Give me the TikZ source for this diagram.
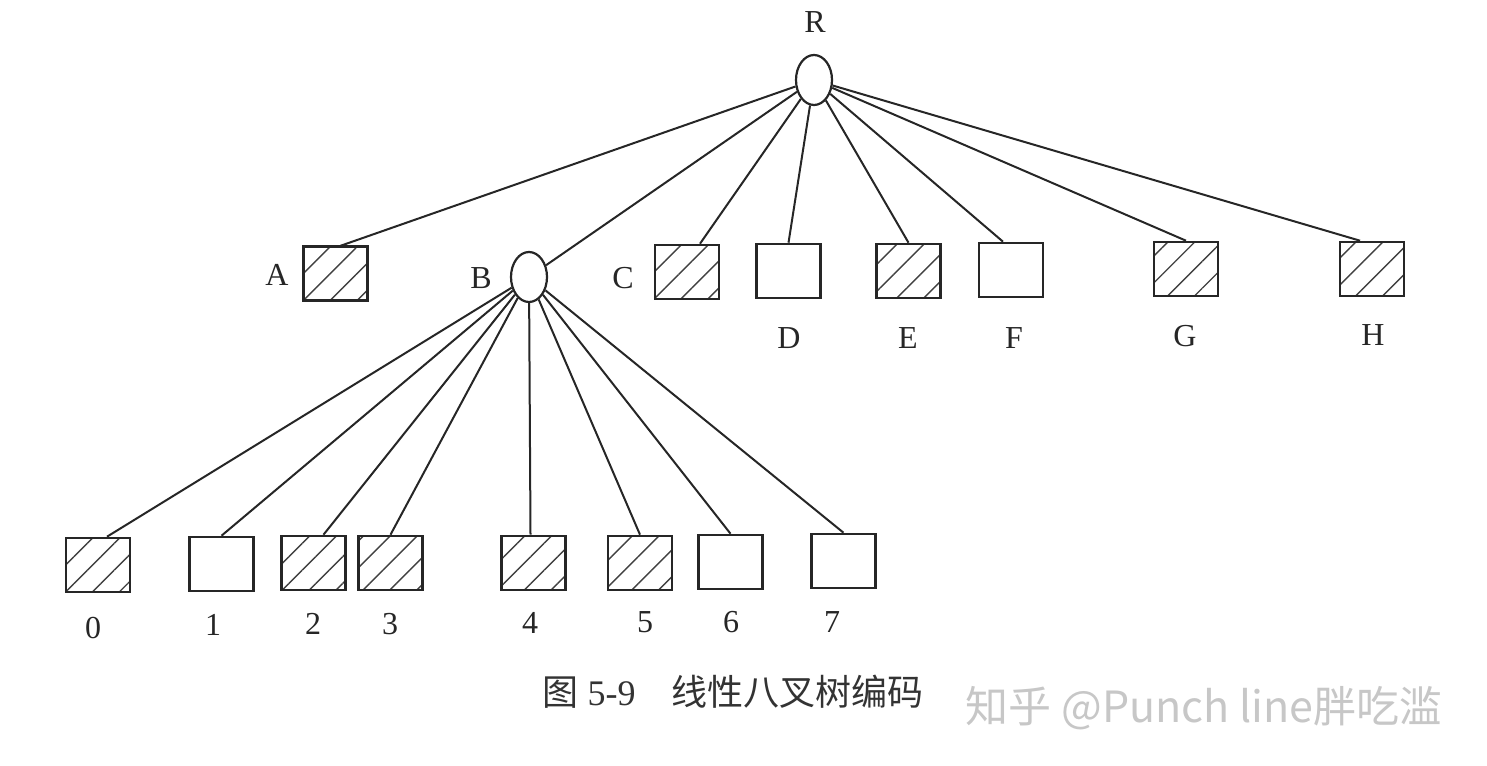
\documentclass[tikz,border=0pt]{standalone}
\usepackage{fontspec}
\setmainfont{Liberation Serif}
\newfontfamily\cjk{Noto Sans CJK SC}
\usetikzlibrary{patterns.meta,shapes.geometric}
\tikzset{
  leaf/.style={draw=black!85,line width=1.3pt,minimum width=32pt,minimum height=27pt,inner sep=0pt},
  hleaf/.style={leaf,pattern={Lines[angle=45,distance=9.5pt,line width=0.7pt]},pattern color=black!75},
  inner/.style={draw=black!85,line width=1.1pt,ellipse,minimum width=18pt,minimum height=25pt,inner sep=0pt},
  lab/.style={font=\fontsize{16}{18}\selectfont,text=black!85,inner sep=0pt},
  conn/.style={draw=black!85,line width=1pt}
}
\begin{document}
\begin{tikzpicture}[x=0.5pt,y=-0.5pt]
\useasboundingbox (0,0) rectangle (1487,765);
% internal nodes
\node[inner] (R) at (814,80) {};
\node[inner] (B) at (529,277) {};
% level 1 leaves
\node[hleaf] (A) at (335.5,273.5) {};
\node[hleaf] (C) at (687,272) {};
\node[leaf]  (D) at (788.5,271) {};
\node[hleaf] (E) at (908.5,271) {};
\node[leaf]  (F) at (1011,270) {};
\node[hleaf] (G) at (1186,269) {};
\node[hleaf] (H) at (1372,269) {};
% level 2 leaves
\node[hleaf] (n0) at (98,565) {};
\node[leaf]  (n1) at (221.5,564) {};
\node[hleaf] (n2) at (313.5,563) {};
\node[hleaf] (n3) at (390.5,563) {};
\node[hleaf] (n4) at (533.5,563) {};
\node[hleaf] (n5) at (640,563) {};
\node[leaf]  (n6) at (730.5,562) {};
\node[leaf]  (n7) at (843.5,561) {};
% labels
\node[lab] (lR) at (815,22) {R};
\node[lab] (lA) at (277,275) {A};
\node[lab] (lB) at (481,278) {B};
\node[lab] (lC) at (623,278) {C};
\node[lab] (lD) at (789,338) {D};
\node[lab] (lE) at (908,338) {E};
\node[lab] (lF) at (1014,338) {F};
\node[lab] (lG) at (1185,336) {G};
\node[lab] (lH) at (1373,335) {H};
\node[lab] (l0) at (93,628) {0};
\node[lab] (l1) at (213,625) {1};
\node[lab] (l2) at (313,624) {2};
\node[lab] (l3) at (390,624) {3};
\node[lab] (l4) at (530,623) {4};
\node[lab] (l5) at (645,622) {5};
\node[lab] (l6) at (731,622) {6};
\node[lab] (l7) at (832,622) {7};
% connectors from R
\draw[conn] (R) -- ([xshift=2.5pt]A.north);
\draw[conn] (R) -- (B);
\draw[conn] (R) -- ([xshift=6.5pt]C.north);
\draw[conn] (R) -- (D.north);
\draw[conn] (R) -- (E.north);
\draw[conn] (R) -- ([xshift=-4pt]F.north);
\draw[conn] (R) -- (G.north);
\draw[conn] (R) -- ([xshift=-6pt]H.north);
% connectors from B
\draw[conn] (B) -- ([xshift=4.5pt]n0.north);
\draw[conn] (B) -- (n1.north);
\draw[conn] (B) -- ([xshift=5pt]n2.north);
\draw[conn] (B) -- (n3.north);
\draw[conn] (B) -- ([xshift=-1.5pt]n4.north);
\draw[conn] (B) -- (n5.north);
\draw[conn] (B) -- (n6.north);
\draw[conn] (B) -- (n7.north);
% caption
\node[inner sep=0pt,text=black!80,font=\fontsize{18}{21}\selectfont] (cap) at (733,692) {{\cjk 图} 5-9\quad{\cjk 线性八叉树编码}};
% watermark
\node[inner sep=0pt,text=black!22,font=\cjk\fontsize{21.5}{24}\selectfont] (wm) at (1204,708) {知乎 @Punch line胖吃滥};
\end{tikzpicture}
\end{document}
